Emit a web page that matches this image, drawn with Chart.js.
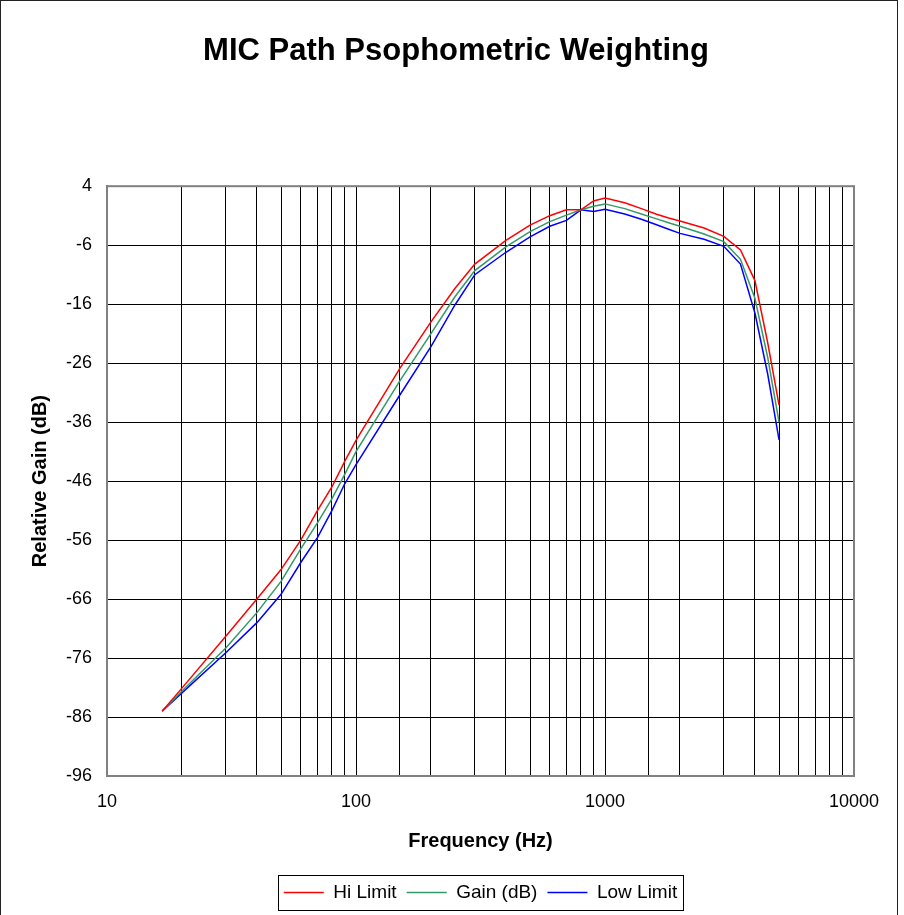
<!DOCTYPE html>
<html>
<head>
<meta charset="utf-8">
<title>MIC Path Psophometric Weighting</title>
<script src="https://cdn.jsdelivr.net/npm/chart.js@4.4.1/dist/chart.umd.min.js"></script>
<style>
  html, body { margin: 0; padding: 0; background: #fff; }
  #wrap { width: 904px; height: 915px; }
</style>
</head>
<body>
<div id="wrap"><canvas id="weightingChart" width="904" height="915"></canvas></div>
<script>
// Frequencies (Hz) and the three curves (dB)
const frequencies = [16.66, 20, 30, 40, 50, 60, 70, 80, 90, 100, 150, 200, 250, 300, 400, 500, 600, 700, 800, 900,
    1000, 1200, 1400, 1600, 1800, 2000, 2500, 3000, 3500, 4000, 4500, 5000];
const hiLimit = [-85, -81.1, -72.3, -66.0, -61.0, -56.0, -51.0, -47.0, -42.7, -39.1, -26.9, -19.0, -13.3, -9.2, -5.2, -2.6, -1.0, 0.0, 0.0, 1.5,
    2.0, 1.2, 0.2, -0.7, -1.4, -1.9, -3.1, -4.5, -6.8, -12.0, -22.5, -33.1];
const gain = [-85, -81.6, -74.3, -68.3, -63.0, -57.5, -53.1, -49.0, -44.9, -41.0, -29.0, -21.0, -14.7, -10.3, -6.3, -3.7, -2.0, -0.9, 0.0, 0.6,
    1.0, 0.2, -0.7, -1.5, -2.2, -2.8, -4.1, -5.4, -8.4, -15.0, -25.0, -36.0];
const lowLimit = [-85, -81.9, -75.1, -70.0, -65.2, -59.8, -55.6, -51.0, -46.5, -43.2, -31.4, -23.2, -16.1, -11.0, -7.2, -4.6, -2.8, -1.8, 0.0, -0.3,
    0.1, -0.7, -1.6, -2.5, -3.3, -4.0, -5.0, -6.2, -9.2, -17.5, -27.8, -39.0];
const xTickLabels = [10, 100, 1000, 10000];

const toPoints = vals => vals.map((v, i) => ({ x: frequencies[i], y: v }));
const FONT = '"Liberation Sans", Arial, Helvetica, sans-serif';

// grey plot frame, legend box and outer border
const framePlugin = {
    id: 'frame',
    beforeDatasetsDraw(chart) {
        const { ctx, chartArea: a } = chart;
        ctx.save();
        ctx.strokeStyle = '#808080';
        ctx.lineWidth = 2;
        ctx.strokeRect(a.left, a.top, a.right - a.left, a.bottom - a.top);
        ctx.restore();
    },
    afterDraw(chart) {
        const ctx = chart.ctx;
        const boxes = chart.legend.legendHitBoxes;
        ctx.save();
        ctx.strokeStyle = '#000';
        ctx.lineWidth = 1;
        if (boxes && boxes.length) {
            const first = boxes[0], last = boxes[boxes.length - 1];
            const x0 = Math.round(first.left - 6), x1 = Math.round(last.left + last.width + 6);
            const y0 = Math.round(first.top - 8), y1 = Math.round(first.top + first.height + 8);
            ctx.strokeRect(x0 + 0.5, y0 + 0.5, x1 - x0, y1 - y0);
        }
        ctx.strokeStyle = '#222';
        ctx.strokeRect(0.5, 0.5, 897, 930);
        ctx.restore();
    }
};

const ctx = document.getElementById('weightingChart').getContext('2d');
new Chart(ctx, {
    type: 'line',
    data: {
        datasets: [{
            label: 'Hi Limit',
            data: toPoints(hiLimit),
            borderColor: '#ff0000',
            backgroundColor: '#ff0000',
            borderWidth: 1.5,
            pointRadius: 0,
            tension: 0
        }, {
            label: 'Gain (dB)',
            data: toPoints(gain),
            borderColor: '#339966',
            backgroundColor: '#339966',
            borderWidth: 1.5,
            pointRadius: 0,
            tension: 0
        }, {
            label: 'Low Limit',
            data: toPoints(lowLimit),
            borderColor: '#0000ff',
            backgroundColor: '#0000ff',
            borderWidth: 1.5,
            pointRadius: 0,
            tension: 0
        }]
    },
    options: {
        responsive: false,
        animation: false,
        layout: { padding: { left: 58, right: 50, top: 0, bottom: 3 } },
        plugins: {
            title: {
                display: true,
                text: 'MIC Path Psophometric Weighting',
                color: '#000',
                font: { family: FONT, size: 31, weight: 'bold' },
                padding: { top: 33, bottom: 116 }
            },
            legend: {
                position: 'bottom',
                fullSize: false,
                labels: {
                    usePointStyle: true,
                    pointStyle: 'line',
                    pointStyleWidth: 40,
                    color: '#000',
                    padding: 10,
                    font: { family: FONT, size: 19 }
                }
            },
            tooltip: { enabled: false }
        },
        scales: {
            x: {
                type: 'logarithmic',
                min: 10,
                max: 10000,
                grid: { color: '#000', lineWidth: 1, drawTicks: false },
                border: { color: '#808080', width: 2 },
                ticks: {
                    autoSkip: false,
                    maxRotation: 0,
                    padding: 15,
                    color: '#000',
                    font: { family: FONT, size: 18 },
                    callback: v => xTickLabels.includes(v) ? String(v) : ''
                },
                title: {
                    display: true,
                    text: 'Frequency (Hz)',
                    color: '#000',
                    font: { family: FONT, size: 20, weight: 'bold' },
                    padding: { top: 4, bottom: 20 }
                },
                afterFit(scale) { scale.height = 97; }
            },
            y: {
                min: -96,
                max: 4,
                grid: { color: '#000', lineWidth: 1, drawTicks: false },
                border: { color: '#808080', width: 2 },
                ticks: {
                    stepSize: 10,
                    padding: 15,
                    color: '#000',
                    font: { family: FONT, size: 18 }
                },
                title: {
                    display: true,
                    text: 'Relative Gain (dB)',
                    color: '#000',
                    font: { family: FONT, size: 20, weight: 'bold' },
                    padding: { top: -30, bottom: 4 }
                },
                afterFit(scale) { scale.width = 49; }
            }
        }
    },
    plugins: [framePlugin]
});
</script>
</body>
</html>
